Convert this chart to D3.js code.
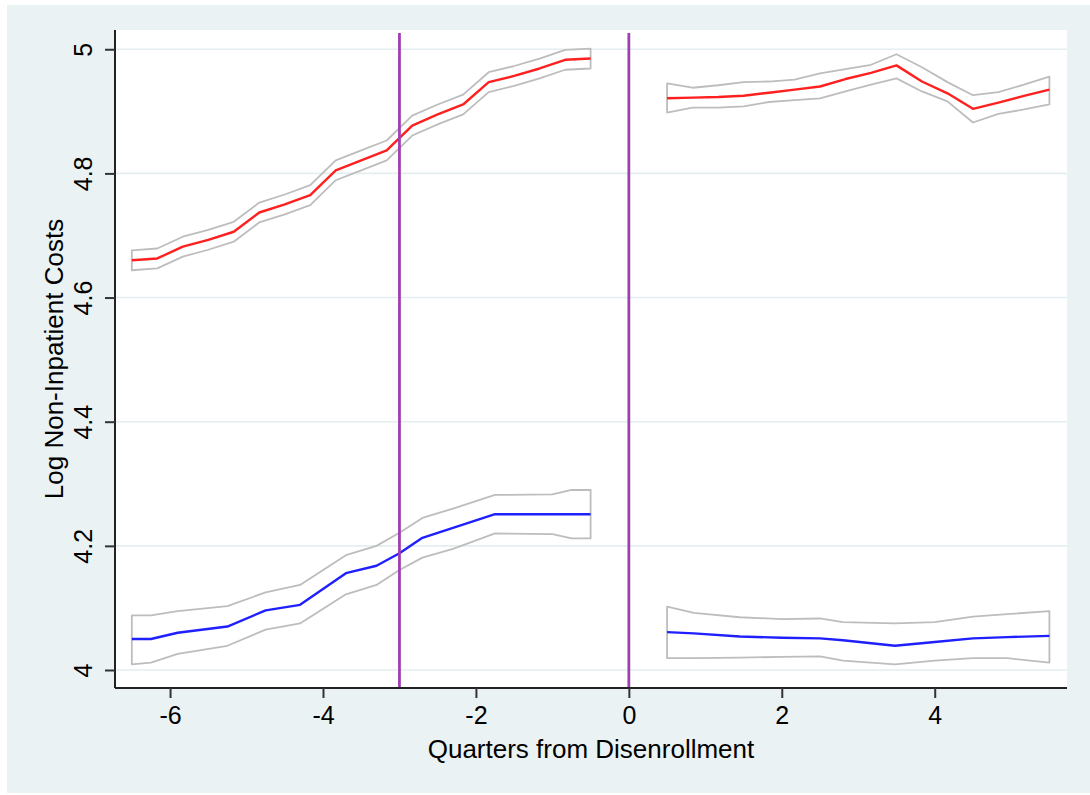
<!DOCTYPE html>
<html>
<head>
<meta charset="utf-8">
<script src="https://cdn.jsdelivr.net/npm/d3@7"></script>
<style>
  html, body { margin: 0; padding: 0; background: #ffffff; }
  svg { display: block; }
  text { font-family: "Liberation Sans", Arial, Helvetica, sans-serif; fill: #000; }
</style>
</head>
<body>
<svg id="chart" width="1090" height="795"></svg>
<script>
// ---------- DATA ----------
const xTicks = [-6, -4, -2, 0, 2, 4];
const yTicks = [4, 4.2, 4.4, 4.6, 4.8, 5];
const xTickLabels = ["-6", "-4", "-2", "0", "2", "4"];
const yTickLabels = ["4", "4.2", "4.4", "4.6", "4.8", "5"];
const vLines = [-3, 0];
const xTitle = "Quarters from Disenrollment";
const yTitle = "Log Non-Inpatient Costs";

// Red series, before disenrollment
const redPreX  = [-6.5, -6.167, -5.833, -5.5, -5.167, -4.833, -4.5, -4.167, -3.833, -3.5, -3.167, -2.833, -2.5, -2.167, -1.833, -1.5, -1.167, -0.833, -0.5];
const redPreY  = [4.660, 4.663, 4.682, 4.693, 4.706, 4.737, 4.750, 4.765, 4.805, 4.821, 4.837, 4.877, 4.895, 4.911, 4.947, 4.957, 4.969, 4.983, 4.985];
const redPreHi = [4.676, 4.679, 4.698, 4.709, 4.722, 4.753, 4.766, 4.781, 4.821, 4.837, 4.853, 4.893, 4.911, 4.927, 4.963, 4.973, 4.985, 4.999, 5.001];
const redPreLo = [4.644, 4.647, 4.666, 4.677, 4.690, 4.721, 4.734, 4.749, 4.789, 4.805, 4.821, 4.861, 4.879, 4.895, 4.931, 4.941, 4.953, 4.967, 4.969];

// Red series, after disenrollment
const redPostX  = [0.5, 0.833, 1.167, 1.5, 1.833, 2.167, 2.5, 2.833, 3.167, 3.5, 3.833, 4.167, 4.5, 4.833, 5.167, 5.5];
const redPostY  = [4.921, 4.922, 4.923, 4.925, 4.930, 4.935, 4.940, 4.952, 4.962, 4.974, 4.948, 4.929, 4.904, 4.914, 4.925, 4.935];
const redPostHi = [4.945, 4.938, 4.942, 4.947, 4.948, 4.951, 4.961, 4.968, 4.975, 4.992, 4.971, 4.947, 4.926, 4.931, 4.943, 4.956];
const redPostLo = [4.898, 4.906, 4.906, 4.908, 4.915, 4.918, 4.921, 4.932, 4.943, 4.953, 4.932, 4.916, 4.882, 4.896, 4.903, 4.911];

// Blue series, before disenrollment
const bluePreX  = [-6.5, -6.25, -5.9, -5.25, -4.75, -4.3, -3.7, -3.3, -3.0, -2.7, -2.3, -1.75, -1.0, -0.75, -0.5];
const bluePreY  = [4.050, 4.050, 4.060, 4.070, 4.096, 4.105, 4.156, 4.168, 4.188, 4.213, 4.229, 4.251, 4.251, 4.251, 4.251];
const bluePreHi = [4.088, 4.088, 4.095, 4.103, 4.125, 4.137, 4.185, 4.200, 4.221, 4.245, 4.260, 4.282, 4.283, 4.290, 4.290];
const bluePreLo = [4.009, 4.012, 4.026, 4.039, 4.065, 4.075, 4.122, 4.137, 4.161, 4.181, 4.195, 4.220, 4.219, 4.212, 4.212];

// Blue series, after disenrollment
const bluePostX  = [0.5, 0.85, 1.45, 2.0, 2.5, 2.8, 3.48, 4.0, 4.5, 4.95, 5.5];
const bluePostY  = [4.061, 4.059, 4.054, 4.052, 4.051, 4.048, 4.039, 4.045, 4.051, 4.053, 4.055];
const bluePostHi = [4.102, 4.092, 4.085, 4.082, 4.083, 4.077, 4.075, 4.077, 4.086, 4.090, 4.095];
const bluePostLo = [4.019, 4.019, 4.020, 4.021, 4.022, 4.015, 4.009, 4.015, 4.019, 4.019, 4.012];

// ---------- DRAW ----------
const svg = d3.select("#chart");
const plot = { left: 115, right: 1067, top: 30, bottom: 688 };

const x = d3.scaleLinear().domain([-6.72, 5.73]).range([plot.left, plot.right]);
const y = d3.scaleLinear().domain([3.971, 5.031]).range([plot.bottom, plot.top]);

// outer background
svg.append("rect").attr("x", 7).attr("y", 5).attr("width", 1083).attr("height", 788)
  .attr("fill", "#eaf2f3");
// plot region
svg.append("rect").attr("x", plot.left).attr("y", plot.top)
  .attr("width", plot.right - plot.left).attr("height", plot.bottom - plot.top)
  .attr("fill", "#ffffff");

// grid lines
svg.append("g").selectAll("line").data(yTicks).join("line")
  .attr("x1", plot.left).attr("x2", plot.right)
  .attr("y1", d => y(d)).attr("y2", d => y(d))
  .attr("stroke", "#e4eef0").attr("stroke-width", 1.6);

// series
function band(xs, hi, lo) {
  const pts = xs.map((d, i) => [x(d), y(hi[i])]);
  for (let i = xs.length - 1; i >= 0; i--) pts.push([x(xs[i]), y(lo[i])]);
  return "M" + pts.map(p => p.join(",")).join("L") + "Z";
}
const lineGen = d3.line().x(d => x(d[0])).y(d => y(d[1]));

const series = [
  { xs: redPreX, ys: redPreY, hi: redPreHi, lo: redPreLo, color: "#ff1f1f" },
  { xs: redPostX, ys: redPostY, hi: redPostHi, lo: redPostLo, color: "#ff1f1f" },
  { xs: bluePreX, ys: bluePreY, hi: bluePreHi, lo: bluePreLo, color: "#1f1fff" },
  { xs: bluePostX, ys: bluePostY, hi: bluePostHi, lo: bluePostLo, color: "#1f1fff" }
];
const gS = svg.append("g");
series.forEach(s => {
  gS.append("path").attr("d", band(s.xs, s.hi, s.lo))
    .attr("fill", "none").attr("stroke", "#bdbdbd").attr("stroke-width", 1.8)
    .attr("stroke-linejoin", "round");
});
series.forEach(s => {
  gS.append("path").attr("d", lineGen(s.xs.map((d, i) => [d, s.ys[i]])))
    .attr("fill", "none").attr("stroke", s.color).attr("stroke-width", 2.4)
    .attr("stroke-linejoin", "round");
});

// vertical reference lines
svg.append("g").selectAll("line").data(vLines).join("line")
  .attr("x1", d => x(d)).attr("x2", d => x(d))
  .attr("y1", plot.top + 3).attr("y2", plot.bottom)
  .attr("stroke", "#a040b0").attr("stroke-width", 2.8);

// axes
const xAxis = d3.axisBottom(x).tickValues(xTicks).tickSize(10).tickPadding(8)
  .tickFormat((d, i) => xTickLabels[i]);
const gx = svg.append("g").attr("transform", `translate(0,${plot.bottom})`).call(xAxis);
gx.select(".domain").attr("d", `M${plot.left},0H${plot.right}`).attr("stroke", "#222").attr("stroke-width", 2);
gx.selectAll(".tick line").attr("stroke", "#333").attr("stroke-width", 2);
gx.selectAll(".tick text").attr("font-size", 25).attr("fill", "#000")
  .attr("font-family", "Liberation Sans, Arial, sans-serif");

const yAxis = d3.axisLeft(y).tickValues(yTicks).tickSize(10).tickPadding(0)
  .tickFormat((d, i) => yTickLabels[i]);
const gy = svg.append("g").attr("transform", `translate(${plot.left},0)`).call(yAxis);
gy.select(".domain").attr("d", `M0,${plot.top}V${plot.bottom}`).attr("stroke", "#222").attr("stroke-width", 2);
gy.selectAll(".tick line").attr("stroke", "#333").attr("stroke-width", 2);
gy.selectAll(".tick text")
  .attr("font-size", 25).attr("fill", "#000")
  .attr("font-family", "Liberation Sans, Arial, sans-serif")
  .attr("x", null).attr("dy", null)
  .attr("text-anchor", "middle")
  .attr("transform", "translate(-23,0) rotate(-90)");

// titles
svg.append("text").attr("x", (plot.left + plot.right) / 2).attr("y", 758)
  .attr("text-anchor", "middle").attr("font-size", 26).text(xTitle);
svg.append("text").attr("transform", `translate(63,${(plot.top + plot.bottom) / 2}) rotate(-90)`)
  .attr("text-anchor", "middle").attr("font-size", 26).text(yTitle);
</script>
</body>
</html>
